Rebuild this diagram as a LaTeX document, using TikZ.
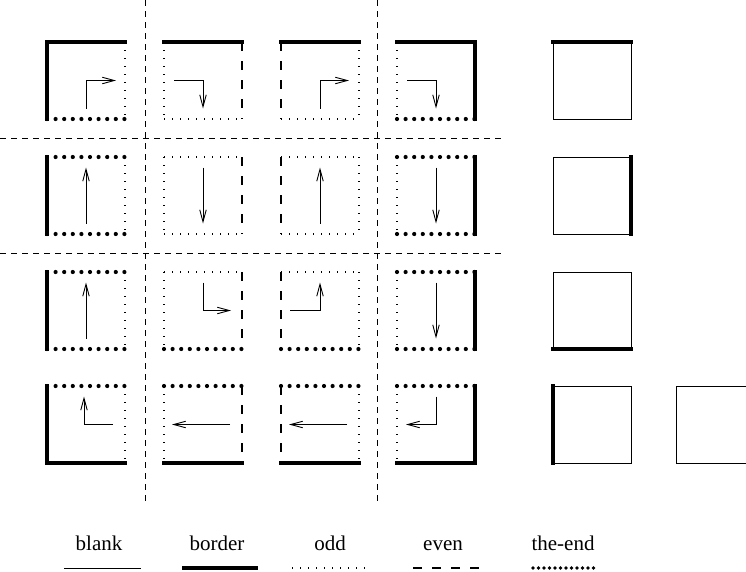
\documentclass[tikz,border=0pt]{standalone}
\usepackage{fontspec}
\setmainfont{Liberation Serif}
\usetikzlibrary{arrows.meta,calc}
\tikzset{
  cellbox/.style={rectangle,minimum width=78pt,minimum height=77pt,inner sep=0pt,outer sep=0pt},
  edgeblank/.style={line width=1pt,line cap=rect},
  edgeborder/.style={line width=3.6pt,line cap=rect},
  edgeodd/.style={line width=1.1pt,dash pattern=on 1pt off 7pt},
  edgeeven/.style={line width=1.1pt,dash pattern=on 9pt off 10pt},
  edgeend/.style={line width=4.2pt,line cap=round,dash pattern=on 0pt off 8.6pt},
  divider/.style={line width=0.7pt,dash pattern=on 6pt off 5pt},
  arr/.style={line width=0.9pt,-{Straight Barb[length=12pt,width=6.5pt]}},
  lbl/.style={anchor=base,inner sep=0pt,font=\fontsize{21}{25}\selectfont},
}
\newcommand{\cellEdges}[5]{%
  \draw[#5] (#1.north west) -- (#1.south west);
  \draw[#3] (#1.north east) -- (#1.south east);
  \draw[#2] (#1.north west) -- (#1.north east);
  \draw[#4] (#1.south west) -- (#1.south east);
}
\begin{document}
\begin{tikzpicture}[x=1pt,y=-1pt]
\useasboundingbox (0,0) rectangle (746,571);
\begin{scope}
\clip (0,0) rectangle (746,571);
% dividers
\coordinate (v1t) at (145,0); \coordinate (v1b) at (145,505);
\coordinate (v2t) at (377,0); \coordinate (v2b) at (377,505);
\coordinate (h1l) at (0,138); \coordinate (h1r) at (505,138);
\coordinate (h2l) at (0,253); \coordinate (h2r) at (505,253);
\draw[divider] (v1t) -- (v1b);
\draw[divider] (v2t) -- (v2b);
\draw[divider] (h1l) -- (h1r);
\draw[divider] (h2l) -- (h2r);
% cells
\foreach \r/\y in {1/80.5,2/195.5,3/310.5,4/424.5}{
  \foreach \c/\x in {1/86,2/203,3/320,4/436,5/592}{
    \node[cellbox] (c\r\c) at (\x,\y) {};
  }
}
\node[cellbox] (c46) at (715,424.5) {};
% row 1
\cellEdges{c11}{edgeborder}{edgeodd}{edgeend}{edgeborder}
\cellEdges{c12}{edgeborder}{edgeeven}{edgeodd}{edgeodd}
\cellEdges{c13}{edgeborder}{edgeodd}{edgeodd}{edgeeven}
\cellEdges{c14}{edgeborder}{edgeborder}{edgeend}{edgeodd}
\cellEdges{c15}{edgeborder}{edgeblank}{edgeblank}{edgeblank}
% row 2
\cellEdges{c21}{edgeend}{edgeodd}{edgeend}{edgeborder}
\cellEdges{c22}{edgeodd}{edgeeven}{edgeodd}{edgeodd}
\cellEdges{c23}{edgeodd}{edgeodd}{edgeodd}{edgeeven}
\cellEdges{c24}{edgeend}{edgeborder}{edgeend}{edgeodd}
\cellEdges{c25}{edgeblank}{edgeborder}{edgeblank}{edgeblank}
% row 3
\cellEdges{c31}{edgeend}{edgeodd}{edgeend}{edgeborder}
\cellEdges{c32}{edgeodd}{edgeeven}{edgeend}{edgeodd}
\cellEdges{c33}{edgeodd}{edgeodd}{edgeend}{edgeeven}
\cellEdges{c34}{edgeend}{edgeborder}{edgeend}{edgeodd}
\cellEdges{c35}{edgeblank}{edgeblank}{edgeborder}{edgeblank}
% row 4
\cellEdges{c41}{edgeend}{edgeodd}{edgeborder}{edgeborder}
\cellEdges{c42}{edgeend}{edgeeven}{edgeborder}{edgeodd}
\cellEdges{c43}{edgeend}{edgeodd}{edgeborder}{edgeeven}
\cellEdges{c44}{edgeend}{edgeborder}{edgeborder}{edgeodd}
\cellEdges{c45}{edgeblank}{edgeblank}{edgeblank}{edgeborder}
\cellEdges{c46}{edgeblank}{edgeblank}{edgeblank}{edgeblank}
% arrows
\draw[arr] ($(c11)+(0,28)$) -- (c11.center) -- ($(c11)+(30,0)$);
\draw[arr] ($(c12)+(-29,0)$) -- (c12.center) -- ($(c12)+(0,28)$);
\draw[arr] ($(c13)+(0,28)$) -- (c13.center) -- ($(c13)+(29,0)$);
\draw[arr] ($(c14)+(-29,0)$) -- (c14.center) -- ($(c14)+(0,28)$);
\draw[arr] ($(c21)+(0,28)$) -- ($(c21)+(0,-28)$);
\draw[arr] ($(c22)+(0,-28)$) -- ($(c22)+(0,28)$);
\draw[arr] ($(c23)+(0,28)$) -- ($(c23)+(0,-28)$);
\draw[arr] ($(c24)+(0,-28)$) -- ($(c24)+(0,28)$);
\draw[arr] ($(c31)+(0,28)$) -- ($(c31)+(0,-28)$);
\draw[arr] ($(c32)+(0,-28)$) -- (c32.center) -- ($(c32)+(28,0)$);
\draw[arr] ($(c33)+(-30,0)$) -- (c33.center) -- ($(c33)+(0,-28)$);
\draw[arr] ($(c34)+(0,-28)$) -- ($(c34)+(0,28)$);
\draw[arr] ($(c41)+(27,0)$) -- ($(c41)+(-2,0)$) -- ($(c41)+(-2,-28)$);
\draw[arr] ($(c42)+(27,0)$) -- ($(c42)+(-31,0)$);
\draw[arr] ($(c43)+(27,0)$) -- ($(c43)+(-31,0)$);
\draw[arr] ($(c44)+(0,-28)$) -- (c44.center) -- ($(c44)+(-30,0)$);
\end{scope}
% legend
\node[lbl] (lblank) at (99,550) {blank};
\node[lbl] (lborder) at (217,550) {border};
\node[lbl] (lodd) at (330,550) {odd};
\node[lbl] (leven) at (443,550) {even};
\node[lbl] (lend) at (563,550) {the-end};
\coordinate (kb1) at (64,568);  \coordinate (kb2) at (141,568);
\coordinate (kr1) at (182,568); \coordinate (kr2) at (258,568);
\coordinate (ko1) at (292,568); \coordinate (ko2) at (370,568);
\coordinate (ke1) at (413,568); \coordinate (ke2) at (488,568);
\coordinate (kt1) at (533,568); \coordinate (kt2) at (596,568);
\draw[edgeblank,line cap=butt] (kb1) -- (kb2);
\draw[edgeborder,line cap=butt] (kr1) -- (kr2);
\draw[edgeodd] (ko1) -- (ko2);
\draw[edgeeven] (ke1) -- (ke2);
\draw[edgeend,line width=3.6pt,dash pattern=on 0pt off 5.5pt] (kt1) -- (kt2);
\end{tikzpicture}
\end{document}
